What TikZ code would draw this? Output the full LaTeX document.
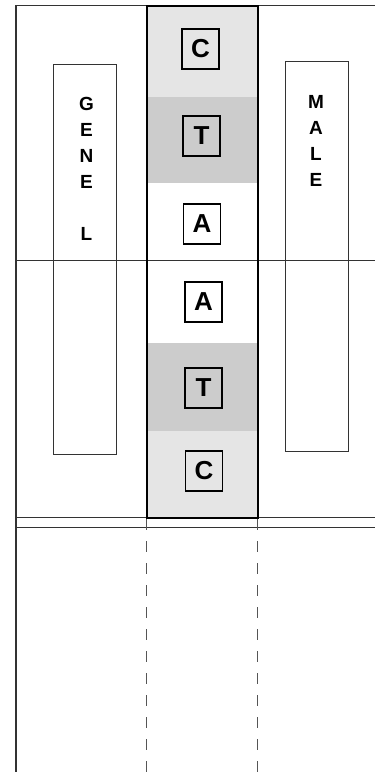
\documentclass[tikz,border=0pt]{standalone}
\usepackage{fontspec}
\setmainfont{Liberation Sans}
\definecolor{bandlt}{HTML}{E5E5E5}
\definecolor{banddk}{HTML}{CCCCCC}
\definecolor{rulegray}{HTML}{333333}
\definecolor{dashgray}{HTML}{555555}

\tikzset{
  basebox/.style={draw=black, line width=1.3pt, fill=none, minimum width=37pt,
    minimum height=40pt, inner sep=0pt, font=\fontsize{26}{26}\selectfont\bfseries},
  sidetext/.style={align=center, inner sep=0pt, anchor=north,
    font=\fontsize{19}{26}\selectfont\bfseries},
  gridline/.style={draw=rulegray, line width=1pt},
}

\begin{document}
\begin{tikzpicture}[x=1pt, y=-1pt]

\useasboundingbox (0,0) rectangle (375,772);

% Column bands (y grows downward, 1 unit = 1 px of the 375x772 frame)
\fill[bandlt] (147,6) rectangle (258,97);
\fill[banddk] (147,97) rectangle (258,183);
\fill[banddk] (147,343) rectangle (258,431);
\fill[bandlt] (147,431) rectangle (258,518);

% Frame lines
\draw[gridline] (16,5) -- (375,5);
\draw[gridline, line width=1.4pt] (16,5) -- (16,772);
\draw[gridline] (16,260) -- (375,260);
\draw[gridline] (16,517) -- (375,517);
\draw[gridline] (16,527) -- (375,527);

% Column outline
\draw[black, line width=1.8pt] (147,6) rectangle (258,518);

% Column guides below
\draw[dashgray, line width=1.3pt, dash pattern=on 11pt off 11pt]
  (146.5,519) -- (146.5,772);
\draw[dashgray, line width=1.3pt, dash pattern=on 11pt off 11pt]
  (257.5,519) -- (257.5,772);

% Side panels
\draw[gridline] (53,64) rectangle (116,454);
\draw[gridline] (285,61) rectangle (348,451);
\node[sidetext] (gene) at (86.5,97) {G\\E\\N\\E\\ \\L};
\node[sidetext] (male) at (316,95) {M\\A\\L\\E};

% Base boxes
\foreach \nm/\lt/\cx/\cy in {c1/C/200.5/49, t1/T/201.5/136, a1/A/202/224,
                             a2/A/203.5/302, t2/T/203.5/388, c2/C/204/471} {
  \node[basebox] (\nm) at (\cx,\cy) {\lt};
}

\end{tikzpicture}
\end{document}
